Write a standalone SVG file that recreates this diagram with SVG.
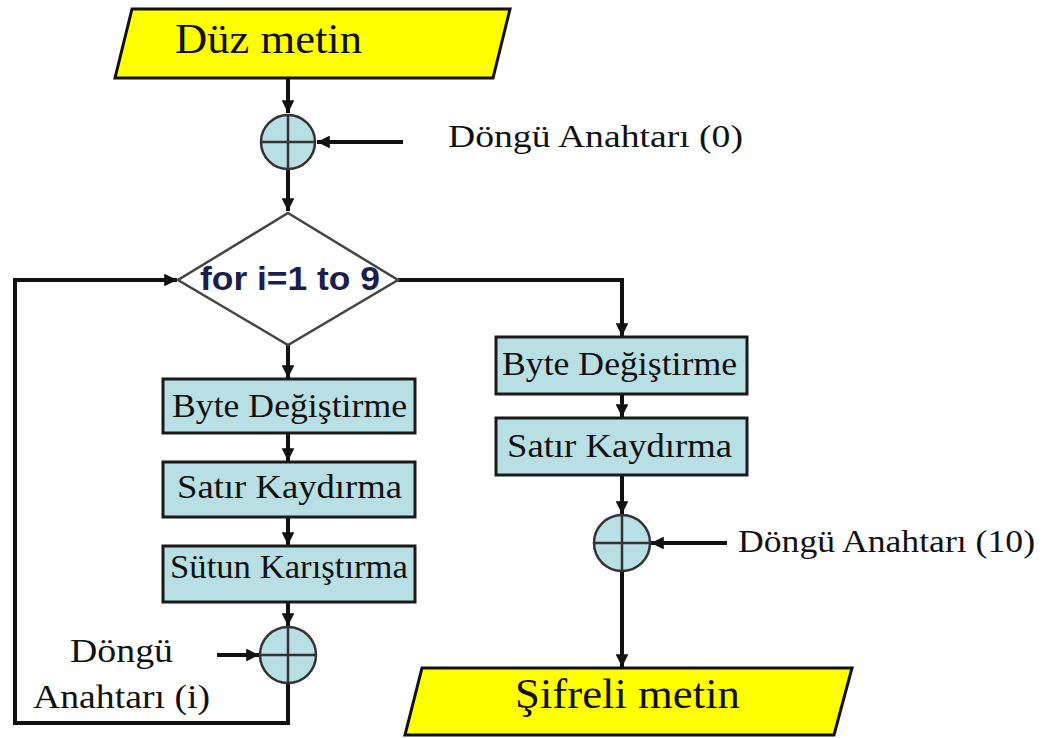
<svg xmlns="http://www.w3.org/2000/svg" width="1059" height="738" viewBox="0 0 1059 738">
<style>
.io{fill:#ffff00;stroke:#111;stroke-width:3}
.box{fill:#b8e0e4;stroke:#1a1a1a;stroke-width:3}
.xor{fill:#b8e0e4;stroke:#333;stroke-width:2.5}
.cross{stroke:#333;stroke-width:2.5}
.dia{fill:#fff;stroke:#444;stroke-width:2.5}
.t{font-family:"Liberation Serif","Times New Roman",serif;fill:#111}
.c{fill:none;stroke:#111;stroke-width:4}
</style>
<defs>
<marker id="ah" viewBox="0 0 10 10" refX="10" refY="5" markerWidth="3.2" markerHeight="3.2" orient="auto" markerUnits="strokeWidth">
<path d="M0,0 L10,5 L0,10 Z" fill="#111"/>
</marker>
</defs>
<rect width="1059" height="738" fill="#fff"/>
<g id="connectors">
<path class="c" d="M288,78 V113" marker-end="url(#ah)"/>
<path class="c" d="M403,142 H317" marker-end="url(#ah)"/>
<path class="c" d="M288,170 V211" marker-end="url(#ah)"/>
<path class="c" d="M288,345 V378" marker-end="url(#ah)"/>
<path class="c" d="M288,433 V461" marker-end="url(#ah)"/>
<path class="c" d="M288,517 V545" marker-end="url(#ah)"/>
<path class="c" d="M288,602 V626" marker-end="url(#ah)"/>
<path class="c" d="M217,655 H259" marker-end="url(#ah)"/>
<path class="c" d="M288,683 V723 H15 V280 H177" marker-end="url(#ah)"/>
<path class="c" d="M398,280 H622 V336" marker-end="url(#ah)"/>
<path class="c" d="M622,394 V417" marker-end="url(#ah)"/>
<path class="c" d="M622,475 V514" marker-end="url(#ah)"/>
<path class="c" d="M727,543 H651" marker-end="url(#ah)"/>
<path class="c" d="M622,571 V667" marker-end="url(#ah)"/>
</g>
<g id="plaintext">
<polygon class="io" points="132,9 510,9 493,78 115,78"/>
<text class="t" x="175" y="53" font-size="42" textLength="187" lengthAdjust="spacingAndGlyphs">Düz metin</text>
</g>
<g id="xor0">
<circle class="xor" cx="288" cy="142" r="27"/>
<path class="cross" d="M261,142 H315 M288,115 V169"/>
</g>
<text id="key0" class="t" x="448" y="147" font-size="32" textLength="295" lengthAdjust="spacingAndGlyphs">Döngü Anahtarı (0)</text>
<g id="loop">
<polygon class="dia" points="288,213 398,280 288,345 178,280"/>
<text x="200" y="290" font-family="Liberation Sans,Arial,sans-serif" font-weight="bold" font-size="34" fill="#1b1f4f" textLength="180" lengthAdjust="spacingAndGlyphs">for i=1 to 9</text>
</g>
<g id="sub1">
<rect class="box" x="163" y="379" width="252" height="54"/>
<text class="t" x="172" y="417" font-size="34" textLength="235" lengthAdjust="spacingAndGlyphs">Byte Değiştirme</text>
</g>
<g id="shift1">
<rect class="box" x="163" y="462" width="252" height="55"/>
<text class="t" x="177" y="498" font-size="34" textLength="225" lengthAdjust="spacingAndGlyphs">Satır Kaydırma</text>
</g>
<g id="mix1">
<rect class="box" x="163" y="546" width="252" height="56"/>
<text class="t" x="170" y="578" font-size="34" textLength="238" lengthAdjust="spacingAndGlyphs">Sütun Karıştırma</text>
</g>
<g id="xori">
<circle class="xor" cx="288" cy="655" r="28"/>
<path class="cross" d="M260,655 H316 M288,627 V683"/>
</g>
<g id="keyi">
<text class="t" x="70" y="662" font-size="33" textLength="103" lengthAdjust="spacingAndGlyphs">Döngü</text>
<text class="t" x="33" y="708" font-size="33" textLength="177" lengthAdjust="spacingAndGlyphs">Anahtarı (i)</text>
</g>
<g id="sub2">
<rect class="box" x="496" y="337" width="251" height="57"/>
<text class="t" x="502" y="375" font-size="34" textLength="235" lengthAdjust="spacingAndGlyphs">Byte Değiştirme</text>
</g>
<g id="shift2">
<rect class="box" x="496" y="418" width="251" height="57"/>
<text class="t" x="507" y="457" font-size="34" textLength="225" lengthAdjust="spacingAndGlyphs">Satır Kaydırma</text>
</g>
<g id="xor10">
<circle class="xor" cx="622" cy="543" r="28"/>
<path class="cross" d="M594,543 H650 M622,515 V571"/>
</g>
<text id="key10" class="t" x="738" y="552" font-size="31" textLength="297" lengthAdjust="spacingAndGlyphs">Döngü Anahtarı (10)</text>
<g id="ciphertext">
<polygon class="io" points="422,668 852,668 834,735 405,735"/>
<text class="t" x="515" y="708" font-size="42" textLength="225" lengthAdjust="spacingAndGlyphs">Şifreli metin</text>
</g>
</svg>
